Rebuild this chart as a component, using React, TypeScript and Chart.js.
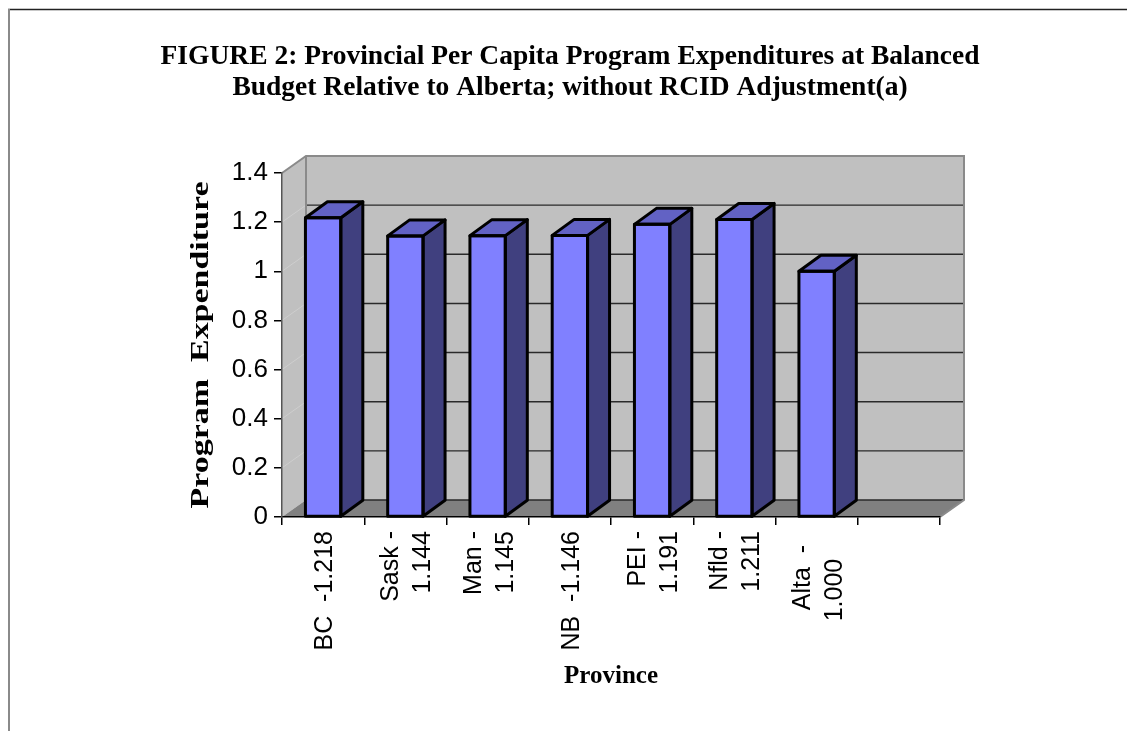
import React, { useEffect, useRef } from "react";
import { Chart, registerables } from "chart.js";

Chart.register(...registerables);

// ---- data ----
const provinces = ["BC", "Sask", "Man", "NB", "PEI", "Nfld", "Alta", ""];
const expenditure: (number | null)[] = [1.218, 1.144, 1.145, 1.146, 1.191, 1.211, 1.0, null];
const categoryLabels: string[][] = [
  ["BC  -1.218"],
  ["Sask -", "1.144"],
  ["Man -", "1.145"],
  ["NB  -1.146"],
  ["PEI -", "1.191"],
  ["Nfld -", "1.211"],
  ["Alta  -  ", "1.000    "],
  [],
];
const yMin = 0;
const yMax = 1.4;
const yStep = 0.2;
const titleLines = [
  "FIGURE 2: Provincial Per Capita Program Expenditures at Balanced",
  "Budget Relative to Alberta; without RCID Adjustment(a)",
];
const xTitle = "Province";
const yTitle = "Program  Expenditure";

// ---- styling ----
const W = 1127;
const H = 731;
const WALL_DX = 24; // depth offset of the back wall
const WALL_DY = -17;
const BAR_DX = 22; // depth of each bar
const BAR_DY = -16;
const Y_TITLE_LENGTH = 327; // the vertical title is stretched along its run
const SANS = "'Liberation Sans', Arial, sans-serif";
const SERIF = "'Liberation Serif', 'Times New Roman', serif";

const fmt = (v: number) => String(Number(v.toFixed(1)));

const threeD = {
  id: "threeD",
  beforeDraw(chart: any) {
    const { ctx } = chart;
    const xs = chart.scales.x;
    const ys = chart.scales.y;
    const x0 = xs.left;
    const x1 = xs.right;
    const yTop = ys.getPixelForValue(yMax);
    const yBase = ys.getPixelForValue(yMin);
    ctx.save();
    ctx.fillStyle = "#fff";
    ctx.fillRect(0, 0, chart.width, chart.height);

    // outer frame
    ctx.strokeStyle = "#222";
    ctx.lineWidth = 1.5;
    ctx.beginPath();
    ctx.moveTo(8, 9.5);
    ctx.lineTo(chart.width, 9.5);
    ctx.stroke();
    ctx.strokeStyle = "#8a8a8a";
    ctx.lineWidth = 2;
    ctx.beginPath();
    ctx.moveTo(9, 9);
    ctx.lineTo(9, chart.height);
    ctx.stroke();

    ctx.lineJoin = "miter";
    // back wall
    ctx.fillStyle = "#c0c0c0";
    ctx.fillRect(x0 + WALL_DX, yTop + WALL_DY, x1 - x0, yBase - yTop);
    // left wall
    ctx.beginPath();
    ctx.moveTo(x0, yTop);
    ctx.lineTo(x0 + WALL_DX, yTop + WALL_DY);
    ctx.lineTo(x0 + WALL_DX, yBase + WALL_DY);
    ctx.lineTo(x0, yBase);
    ctx.closePath();
    ctx.fill();
    // floor
    ctx.fillStyle = "#808080";
    ctx.beginPath();
    ctx.moveTo(x0, yBase);
    ctx.lineTo(x1, yBase);
    ctx.lineTo(x1 + WALL_DX, yBase + WALL_DY);
    ctx.lineTo(x0 + WALL_DX, yBase + WALL_DY);
    ctx.closePath();
    ctx.fill();

    // gridlines on the left wall (faint) and back wall (dark)
    for (let v = yMin; v <= yMax + 1e-9; v += yStep) {
      const py = ys.getPixelForValue(v);
      if (v > yMin + 1e-9 && v < yMax - 1e-9) {
        ctx.strokeStyle = "#cecece";
        ctx.lineWidth = 1;
        ctx.beginPath();
        ctx.moveTo(x0, py);
        ctx.lineTo(x0 + WALL_DX, py + WALL_DY);
        ctx.stroke();
      }
      if (v < yMax - 1e-9) {
        ctx.strokeStyle = "#2a2a2a";
        ctx.lineWidth = 1.4;
        ctx.beginPath();
        ctx.moveTo(x0 + WALL_DX, py + WALL_DY);
        ctx.lineTo(x1 + WALL_DX, py + WALL_DY);
        ctx.stroke();
      }
    }

    // wall outlines
    ctx.strokeStyle = "#8a8a8a";
    ctx.lineWidth = 2;
    ctx.beginPath();
    ctx.moveTo(x0, yTop);
    ctx.lineTo(x0 + WALL_DX, yTop + WALL_DY);
    ctx.lineTo(x1 + WALL_DX, yTop + WALL_DY);
    ctx.lineTo(x1 + WALL_DX, yBase + WALL_DY);
    ctx.lineTo(x1, yBase);
    ctx.moveTo(x0 + WALL_DX, yTop + WALL_DY);
    ctx.lineTo(x0 + WALL_DX, yBase + WALL_DY);
    ctx.stroke();
    ctx.restore();
  },
  afterDatasetsDraw(chart: any) {
    const { ctx } = chart;
    const meta = chart.getDatasetMeta(0);
    ctx.save();
    ctx.lineWidth = 3;
    ctx.strokeStyle = "#000";
    ctx.lineJoin = "round";
    meta.data.forEach((bar: any, i: number) => {
      if (expenditure[i] == null) return;
      const { x, y, base, width } = bar.getProps(["x", "y", "base", "width"], true);
      const l = x - width / 2;
      const r = x + width / 2;
      // side face
      ctx.fillStyle = "#40407f";
      ctx.beginPath();
      ctx.moveTo(r, y);
      ctx.lineTo(r + BAR_DX, y + BAR_DY);
      ctx.lineTo(r + BAR_DX, base + BAR_DY);
      ctx.lineTo(r, base);
      ctx.closePath();
      ctx.fill();
      ctx.stroke();
      // top face
      ctx.fillStyle = "#6262c4";
      ctx.beginPath();
      ctx.moveTo(l, y);
      ctx.lineTo(l + BAR_DX, y + BAR_DY);
      ctx.lineTo(r + BAR_DX, y + BAR_DY);
      ctx.lineTo(r, y);
      ctx.closePath();
      ctx.fill();
      ctx.stroke();
      // front outline
      ctx.strokeRect(l, y, width, base - y);
    });
    ctx.restore();
  },
  afterDraw(chart: any) {
    const { ctx } = chart;
    const xs = chart.scales.x;
    const ys = chart.scales.y;
    ctx.save();
    ctx.fillStyle = "#000";

    // title
    ctx.font = `bold 27.5px ${SERIF}`;
    ctx.textAlign = "center";
    ctx.textBaseline = "middle";
    titleLines.forEach((t, i) => ctx.fillText(t, 570, 57 + i * 31));

    // category labels, rotated, top-aligned to the axis
    ctx.font = `25px ${SANS}`;
    const lh = 32;
    categoryLabels.forEach((lines, i) => {
      const cx = xs.getPixelForValue(i);
      lines.forEach((line, j) => {
        const px = cx + (j - (lines.length - 1) / 2) * lh + 2;
        ctx.save();
        ctx.translate(px, xs.top + 14);
        ctx.rotate(-Math.PI / 2);
        ctx.textAlign = "right";
        ctx.textBaseline = "middle";
        ctx.fillText(line, 0, 0);
        ctx.restore();
      });
    });

    // axis titles
    ctx.font = `bold 25px ${SERIF}`;
    ctx.textAlign = "center";
    ctx.textBaseline = "middle";
    ctx.fillText(xTitle, (xs.left + xs.right) / 2, 677);

    ctx.save();
    ctx.translate(201, (ys.top + ys.bottom) / 2);
    ctx.rotate(-Math.PI / 2);
    ctx.font = `bold 26px ${SERIF}`;
    const runLen = ctx.measureText(yTitle).width;
    ctx.scale(Y_TITLE_LENGTH / runLen, 1);
    ctx.fillText(yTitle, 0, 0);
    ctx.restore();

    ctx.restore();
  },
};

export default function App() {
  const ref = useRef<HTMLCanvasElement>(null);
  useEffect(() => {
    if (!ref.current) return;
    const chart = new Chart(ref.current, {
      type: "bar",
      data: {
        labels: provinces,
        datasets: [
          {
            data: expenditure,
            backgroundColor: "#8080ff",
            borderColor: "#000",
            borderWidth: 0,
            barPercentage: 0.43,
            categoryPercentage: 1,
          },
        ],
      },
      options: {
        responsive: false,
        animation: false,
        events: [],
        layout: { padding: { top: 173, right: 187, bottom: 64, left: 0 } },
        plugins: {
          legend: { display: false },
          tooltip: { enabled: false },
          title: { display: false },
        },
        scales: {
          x: {
            offset: true,
            grid: {
              offset: true,
              drawOnChartArea: false,
              drawTicks: true,
              tickLength: 8,
              color: "#000",
              lineWidth: 1.5,
            },
            border: { display: true, color: "#000", width: 1.5 },
            ticks: { display: false },
            afterFit: (s: any) => {
              s.height = 150;
            },
          },
          y: {
            min: yMin,
            max: yMax,
            ticks: {
              stepSize: yStep,
              color: "#000",
              padding: 6,
              font: { family: SANS, size: 26 },
              callback: (v: any) => fmt(Number(v)),
            },
            grid: {
              drawOnChartArea: false,
              drawTicks: true,
              tickLength: 8,
              color: "#000",
              lineWidth: 1.5,
            },
            border: { display: true, color: "#555", width: 1.5 },
            afterFit: (s: any) => {
              s.width = 282;
            },
          },
        },
      },
      plugins: [threeD],
    });
    return () => chart.destroy();
  }, []);
  return (
    <div style={{ position: "fixed", left: 0, top: 0, width: W, height: H, background: "#fff" }}>
      <canvas ref={ref} width={W} height={H} style={{ display: "block", width: W, height: H }} />
    </div>
  );
}
